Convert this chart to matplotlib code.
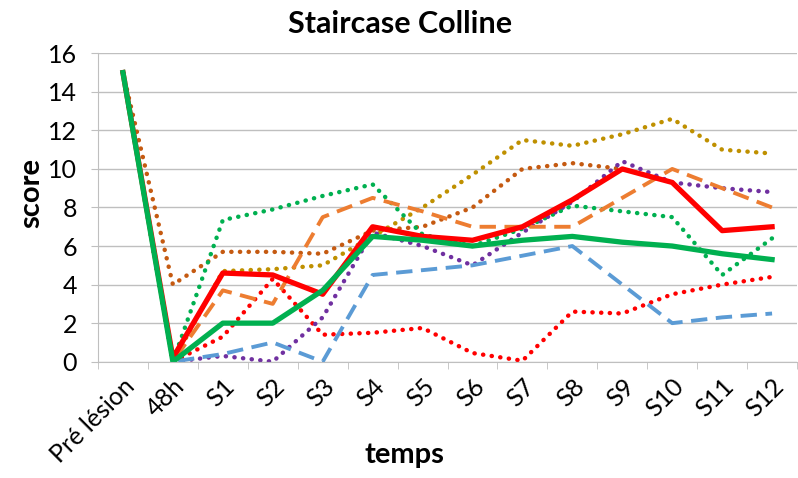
import numpy as np
import matplotlib.pyplot as plt

plt.rcParams['font.family'] = ['Lato', 'DejaVu Sans']

# categories (time points)
temps = ["Pré lésion", "48h", "S1", "S2", "S3", "S4", "S5", "S6", "S7",
         "S8", "S9", "S10", "S11", "S12"]

# individual animals + two mean curves
blue_dash = [15, 0, 0.4, 1.0, 0, 4.5, 4.75, 5.0, 5.5, 6.0, 4.0, 2.0, 2.3, 2.5]
orange_dash = [15, 0, 3.7, 3.0, 7.5, 8.5, 7.8, 7.0, 7.0, 7.0, 8.5, 10.0, 9.0, 8.0]
purple_dot = [15, 0, 0.3, 0, 2.3, 6.7, 6.0, 5.0, 6.7, 8.3, 10.4, 9.3, 9.0, 8.8]
green_dot = [15, 0, 7.35, 7.9, 8.6, 9.2, 6.6, 6.0, 6.9, 8.1, 7.8, 7.5, 4.5, 6.4]
red_dot = [15, 0, 1.3, 4.3, 1.4, 1.5, 1.75, 0.45, 0.05, 2.6, 2.5, 3.5, 4.0, 4.4]
gold_dot = [15, 0, 4.7, 4.8, 5.0, 6.5, 8.0, 9.7, 11.5, 11.2, 11.8, 12.6, 11.0, 10.8]
brown_dot = [15, 4.0, 5.7, 5.7, 5.6, 6.8, 7.0, 8.0, 10.0, 10.3, 10.0,
             np.nan, np.nan, np.nan]
red_mean = [15, 0.2, 4.6, 4.5, 3.5, 7.0, 6.5, 6.3, 7.0, 8.4, 10.0, 9.3, 6.8, 7.0]
green_mean = [15, 0, 2.0, 2.0, 3.7, 6.5, 6.3, 6.0, 6.3, 6.5, 6.2, 6.0, 5.6, 5.3]

x = np.arange(len(temps))

fig = plt.figure(figsize=(7.98, 4.78), dpi=100)
ax = fig.add_axes([0.1228, 0.2433, 0.8760, 0.6452])

dash = (0, (4.2, 2.2))
dot = (0, (0.05, 1.9))

dotted = dict(lw=3.2, ls=dot, dash_capstyle="round", dash_joinstyle="round")
ax.plot(x, brown_dot, color="#C55A11", **dotted)
ax.plot(x, gold_dot, color="#BF9000", **dotted)
ax.plot(x, red_dot, color="#FF0000", **dotted)
ax.plot(x, green_dot, color="#00B050", **dotted)
ax.plot(x, purple_dot, color="#7030A0", **dotted)
ax.plot(x, orange_dash, color="#ED7D31", lw=2.8, ls=dash)
ax.plot(x, blue_dash, color="#5B9BD5", lw=2.8, ls=dash)
ax.plot(x, red_mean, color="#FF0000", lw=3.8)
ax.plot(x, green_mean, color="#00B050", lw=3.8)

ax.set_xlim(-0.5, len(temps) - 0.5)
ax.set_ylim(0, 16)
ax.set_yticks(range(0, 17, 2))
ax.set_xticks(x)
ax.set_xticklabels(temps, rotation=45, ha="right", rotation_mode="anchor",
                   fontsize=18)
ax.set_xticks(np.arange(-0.5, len(temps), 1), minor=True)
ax.tick_params(axis="x", which="major", length=0, pad=9)
ax.tick_params(axis="x", which="minor", length=5, color="#bfbfbf")
ax.tick_params(axis="y", length=5, color="#bfbfbf", labelsize=18, pad=10)

ax.grid(axis="y", color="#bfbfbf", lw=1)
ax.set_axisbelow(True)
for s in ["top", "right"]:
    ax.spines[s].set_visible(False)
for s in ["left", "bottom"]:
    ax.spines[s].set_color("#bfbfbf")

fig.text(0.501, 0.95, "Staircase Colline", fontsize=22, fontweight="bold",
         ha="center", va="center")
fig.text(0.507, 0.048, "temps", fontsize=21, fontweight="bold",
         ha="center", va="center")
fig.text(0.039, 0.596, "score", fontsize=21, fontweight="bold",
         ha="center", va="center", rotation=90)

fig.savefig("out.png", dpi=100)
